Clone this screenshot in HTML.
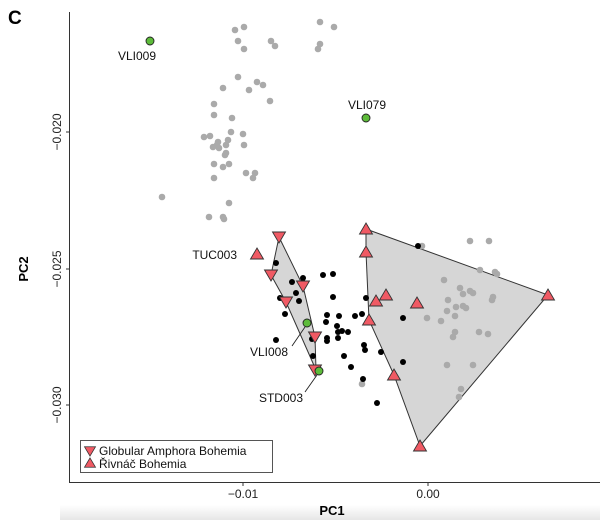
<!DOCTYPE html>
<html><head><meta charset="utf-8"><style>
html,body{margin:0;padding:0;background:#fff;}
svg{display:block;font-family:"Liberation Sans",sans-serif;}
</style></head><body>
<svg width="600" height="520" viewBox="0 0 600 520">
<defs>
<linearGradient id="sh" x1="0" y1="0" x2="0" y2="1"><stop offset="0" stop-color="#fff"/><stop offset="1" stop-color="#e6e6e6"/></linearGradient>
<path id="up" d="M0,-6 L6.5,5 L-6.5,5 Z" fill="#f05a64" stroke="#333" stroke-width="0.9"/>
<path id="dn" d="M0,6 L6.5,-5 L-6.5,-5 Z" fill="#f05a64" stroke="#333" stroke-width="0.9"/>
</defs>
<rect x="60" y="505" width="540" height="15" fill="url(#sh)"/>
<text x="8" y="24" font-size="19" font-weight="bold">C</text>
<!-- axes -->
<line x1="69.5" y1="12" x2="69.5" y2="482" stroke="#333" stroke-width="1"/>
<line x1="69" y1="482.5" x2="600" y2="482.5" stroke="#333" stroke-width="1"/>
<g stroke="#333"><line x1="66" y1="132" x2="69" y2="132"/><line x1="66" y1="269" x2="69" y2="269"/><line x1="66" y1="405" x2="69" y2="405"/>
<line x1="243" y1="483" x2="243" y2="486"/><line x1="428" y1="483" x2="428" y2="486"/></g>
<g font-size="12" fill="#222" text-anchor="middle">
<text transform="translate(61,132) rotate(-90)">−0.020</text>
<text transform="translate(61,269) rotate(-90)">−0.025</text>
<text transform="translate(61,405) rotate(-90)">−0.030</text>
<text x="243" y="498">−0.01</text>
<text x="428" y="498">0.00</text>
</g>
<text x="332" y="515" font-size="13" font-weight="bold" text-anchor="middle">PC1</text>
<text transform="translate(28,269) rotate(-90)" font-size="13" font-weight="bold" text-anchor="middle">PC2</text>
<!-- hulls -->
<polygon points="366,229 548,295 420,446 394,375 369,320 366,252" fill="#d6d6d6" stroke="#333" stroke-width="1"/>
<polygon points="279,237 303,286 315,337 316,370 286,302 271,275" fill="#d6d6d6" stroke="#333" stroke-width="1"/>
<!-- gray points -->
<g fill="#aaa">
<circle cx="235" cy="30" r="3.3"/><circle cx="244" cy="27" r="3.3"/><circle cx="238" cy="41" r="3.3"/><circle cx="244" cy="49" r="3.3"/><circle cx="271" cy="41" r="3.3"/><circle cx="275" cy="46" r="3.3"/><circle cx="320" cy="22" r="3.3"/><circle cx="334" cy="27" r="3.3"/><circle cx="320" cy="44" r="3.3"/><circle cx="318" cy="49" r="3.3"/><circle cx="238" cy="77" r="3.3"/><circle cx="257" cy="82" r="3.3"/><circle cx="223" cy="88" r="3.3"/><circle cx="249" cy="90" r="3.3"/><circle cx="263" cy="85" r="3.3"/><circle cx="270" cy="101" r="3.3"/><circle cx="214" cy="104" r="3.3"/><circle cx="214" cy="115" r="3.3"/><circle cx="232" cy="118" r="3.3"/><circle cx="231" cy="132" r="3.3"/><circle cx="243" cy="134" r="3.3"/><circle cx="204" cy="137" r="3.3"/><circle cx="210" cy="136" r="3.3"/><circle cx="218" cy="142" r="3.3"/><circle cx="228" cy="140" r="3.3"/><circle cx="217" cy="145" r="3.3"/><circle cx="219" cy="148" r="3.3"/><circle cx="213" cy="147" r="3.3"/><circle cx="226" cy="145" r="3.3"/><circle cx="244" cy="145" r="3.3"/><circle cx="226" cy="153" r="3.3"/><circle cx="225" cy="155" r="3.3"/><circle cx="214" cy="164" r="3.3"/><circle cx="223" cy="167" r="3.3"/><circle cx="229" cy="164" r="3.3"/><circle cx="246" cy="173" r="3.3"/><circle cx="255" cy="173" r="3.3"/><circle cx="253" cy="178" r="3.3"/><circle cx="214" cy="178" r="3.3"/><circle cx="162" cy="197" r="3.3"/><circle cx="229" cy="203" r="3.3"/><circle cx="209" cy="217" r="3.3"/><circle cx="223" cy="217" r="3.3"/><circle cx="224" cy="219" r="3.3"/>
<circle cx="422" cy="246" r="3.3"/><circle cx="470" cy="241" r="3.3"/><circle cx="489" cy="241" r="3.3"/><circle cx="480" cy="270" r="3.3"/><circle cx="495" cy="272" r="3.3"/><circle cx="497" cy="274" r="3.3"/><circle cx="444" cy="280" r="3.3"/><circle cx="460" cy="288" r="3.3"/><circle cx="463" cy="294" r="3.3"/><circle cx="470" cy="291" r="3.3"/><circle cx="473" cy="293" r="3.3"/><circle cx="493" cy="297" r="3.3"/><circle cx="492" cy="300" r="3.3"/><circle cx="448" cy="300" r="3.3"/><circle cx="447" cy="311" r="3.3"/><circle cx="463" cy="306" r="3.3"/><circle cx="466" cy="308" r="3.3"/><circle cx="456" cy="307" r="3.3"/><circle cx="427" cy="318" r="3.3"/><circle cx="441" cy="321" r="3.3"/><circle cx="455" cy="316" r="3.3"/><circle cx="455" cy="332" r="3.3"/><circle cx="479" cy="332" r="3.3"/><circle cx="488" cy="334" r="3.3"/><circle cx="453" cy="337" r="3.3"/><circle cx="447" cy="365" r="3.3"/><circle cx="473" cy="365" r="3.3"/><circle cx="461" cy="389" r="3.3"/><circle cx="459" cy="397" r="3.3"/><circle cx="362" cy="384" r="3.3"/>
</g>
<!-- black points -->
<g fill="#000">
<circle cx="276" cy="263" r="3"/><circle cx="280" cy="298" r="3"/><circle cx="303" cy="278" r="3"/><circle cx="292" cy="282" r="3"/><circle cx="299" cy="301" r="3"/><circle cx="296" cy="293" r="3"/><circle cx="285" cy="314" r="3"/><circle cx="276" cy="340" r="3"/><circle cx="312" cy="339" r="3"/><circle cx="333" cy="297" r="3"/><circle cx="323" cy="275" r="3"/><circle cx="333" cy="274" r="3"/><circle cx="366" cy="298" r="3"/><circle cx="327" cy="315" r="3"/><circle cx="326" cy="322" r="3"/><circle cx="339" cy="316" r="3"/><circle cx="337" cy="326" r="3"/><circle cx="338" cy="332" r="3"/><circle cx="342" cy="331" r="3"/><circle cx="338" cy="338" r="3"/><circle cx="348" cy="332" r="3"/><circle cx="355" cy="316" r="3"/><circle cx="362" cy="314" r="3"/><circle cx="327" cy="338" r="3"/><circle cx="327" cy="341" r="3"/><circle cx="364" cy="345" r="3"/><circle cx="365" cy="350" r="3"/><circle cx="344" cy="356" r="3"/><circle cx="351" cy="367" r="3"/><circle cx="363" cy="379" r="3"/><circle cx="381" cy="352" r="3"/><circle cx="403" cy="318" r="3"/><circle cx="403" cy="362" r="3"/><circle cx="377" cy="403" r="3"/><circle cx="418" cy="246" r="3"/><circle cx="313" cy="356" r="3"/>
</g>
<!-- triangles -->
<use href="#up" x="366" y="229"/><use href="#up" x="366" y="252"/><use href="#up" x="376" y="301"/><use href="#up" x="386" y="295"/><use href="#up" x="369" y="320"/><use href="#up" x="417" y="303"/><use href="#up" x="394" y="375"/><use href="#up" x="420" y="446"/><use href="#up" x="548" y="295"/><use href="#up" x="257" y="254"/>
<use href="#dn" x="279" y="237"/><use href="#dn" x="271" y="275"/><use href="#dn" x="303" y="286"/><use href="#dn" x="286" y="302"/><use href="#dn" x="315" y="337"/><use href="#dn" x="315" y="370"/>
<!-- green -->
<g fill="#5dbb3a" stroke="#222" stroke-width="0.9">
<circle cx="150" cy="41" r="4"/><circle cx="366" cy="118" r="4"/><circle cx="307" cy="323" r="4"/><circle cx="319" cy="371" r="4"/>
</g>
<g stroke="#222" stroke-width="0.9"><line x1="292" y1="346" x2="305" y2="327"/><line x1="305" y1="392" x2="317" y2="375"/></g>
<g font-size="12" fill="#111">
<text x="137" y="60" text-anchor="middle">VLI009</text>
<text x="367" y="109" text-anchor="middle">VLI079</text>
<text x="237" y="259" text-anchor="end">TUC003</text>
<text x="288" y="356" text-anchor="end">VLI008</text>
<text x="303" y="402" text-anchor="end">STD003</text>
</g>
<!-- legend -->
<rect x="80.5" y="440.5" width="192" height="32" fill="#fff" stroke="#555" stroke-width="1"/>
<use href="#dn" x="90" y="451" transform="translate(90,451) scale(0.85) translate(-90,-451)"/>
<use href="#up" x="90" y="463" transform="translate(90,463) scale(0.85) translate(-90,-463)"/>
<g font-size="12" fill="#111"><text x="99" y="455">Globular Amphora Bohemia</text><text x="99" y="468">Řivnáč Bohemia</text></g>
</svg>
</body></html>
